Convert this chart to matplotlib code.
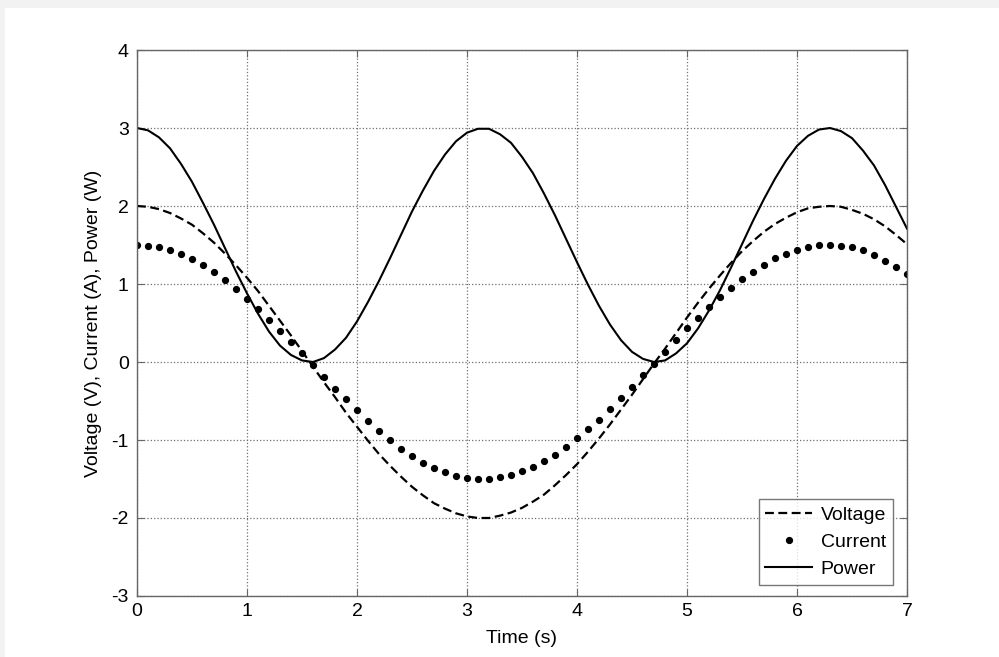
import matplotlib
matplotlib.use("Agg")
import matplotlib.pyplot as plt
from matplotlib.patches import Rectangle
import numpy as np

plt.rcParams['font.family'] = ['Liberation Sans', 'DejaVu Sans']
plt.rcParams['axes.unicode_minus'] = False

# time samples (s), step 0.1
time_s = [round(0.1 * i, 1) for i in range(71)]

voltage = [2.00, 1.99, 1.96, 1.91, 1.84, 1.76, 1.65, 1.53, 1.39, 1.24, 1.08, 0.91, 0.72, 0.53, 0.34, 0.14,
           -0.06, -0.26, -0.45, -0.65, -0.83, -1.01, -1.18, -1.33, -1.47, -1.60, -1.71, -1.81, -1.88, -1.94,
           -1.98, -2.00, -2.00, -1.97, -1.93, -1.87, -1.79, -1.70, -1.58, -1.45, -1.31, -1.15, -0.98, -0.80,
           -0.61, -0.42, -0.22, -0.02, 0.17, 0.37, 0.57, 0.76, 0.94, 1.11, 1.27, 1.42, 1.55, 1.67, 1.77, 1.85,
           1.92, 1.97, 1.99, 2.00, 1.99, 1.95, 1.90, 1.83, 1.74, 1.63, 1.51]

current = [1.50, 1.49, 1.47, 1.43, 1.38, 1.32, 1.24, 1.15, 1.05, 0.93, 0.81, 0.68, 0.54, 0.40, 0.26, 0.11,
           -0.04, -0.19, -0.34, -0.48, -0.62, -0.76, -0.88, -1.00, -1.11, -1.20, -1.29, -1.36, -1.41, -1.46,
           -1.49, -1.50, -1.50, -1.48, -1.45, -1.40, -1.35, -1.27, -1.19, -1.09, -0.98, -0.86, -0.74, -0.60,
           -0.46, -0.32, -0.17, -0.02, 0.13, 0.28, 0.43, 0.57, 0.70, 0.83, 0.95, 1.06, 1.16, 1.25, 1.33, 1.39,
           1.44, 1.47, 1.50, 1.50, 1.49, 1.47, 1.43, 1.37, 1.30, 1.22, 1.13]

power = [3.00, 2.97, 2.88, 2.74, 2.54, 2.31, 2.04, 1.76, 1.46, 1.16, 0.88, 0.62, 0.39, 0.21, 0.09, 0.02,
         0.00, 0.05, 0.16, 0.31, 0.52, 0.77, 1.04, 1.33, 1.63, 1.93, 2.20, 2.45, 2.66, 2.83, 2.94, 2.99,
         2.99, 2.92, 2.81, 2.63, 2.42, 2.16, 1.88, 1.58, 1.28, 0.99, 0.72, 0.48, 0.28, 0.13, 0.04, 0.00,
         0.02, 0.11, 0.24, 0.43, 0.66, 0.92, 1.21, 1.51, 1.81, 2.09, 2.35, 2.58, 2.77, 2.90, 2.98, 3.00,
         2.96, 2.87, 2.71, 2.52, 2.27, 1.99, 1.71]

x_ticks = [0, 1, 2, 3, 4, 5, 6, 7]
y_ticks = [-3, -2, -1, 0, 1, 2, 3, 4]

FS = 14

fig = plt.figure(figsize=(9.99, 6.57), dpi=100, facecolor='#f2f2f2')
fig.patches.append(Rectangle((5 / 999, 0), 1, (657 - 8) / 657, transform=fig.transFigure,
                             facecolor='white', edgecolor='none', zorder=-10))

ax = fig.add_axes([137 / 999, (657 - 596) / 657, 770 / 999, 546 / 657])
ax.set_zorder(5)
ax.set_facecolor('white')

ax.plot(time_s, voltage, color='black', linestyle=(0, (4, 2)), linewidth=1.6, label='Voltage')
ax.plot(time_s, current, color='black', linestyle='none', marker='o', markersize=4.2, label='Current')
ax.plot(time_s, power, color='black', linestyle='-', linewidth=1.5, label='Power')

ax.set_xlim(0, 7)
ax.set_ylim(-3, 4)
ax.set_xticks(x_ticks)
ax.set_yticks(y_ticks)
ax.grid(True, linestyle=':', color='#707070', linewidth=0.9)
ax.set_axisbelow(True)
for s in ax.spines.values():
    s.set_color('#666666')
    s.set_linewidth(1.0)
ax.tick_params(direction='in', top=True, right=True, length=5, color='#666666',
               labelsize=FS)
ax.tick_params(axis='y', pad=6)
ax.tick_params(axis='x', pad=5)

ax.set_xlabel('Time (s)', fontsize=FS, labelpad=7)
ax.set_ylabel('Voltage (V), Current (A), Power (W)', fontsize=FS, labelpad=7)

leg = ax.legend(loc='lower right', fontsize=FS, frameon=True, fancybox=False,
                handlelength=2.4, borderpad=0.35, labelspacing=0.5, handletextpad=0.45,
                borderaxespad=0, bbox_to_anchor=(1 - 14 / 770, 11 / 546))
leg.get_frame().set_edgecolor('#555555')
leg.get_frame().set_linewidth(1.0)

fig.savefig('out.png', dpi=100, facecolor=fig.get_facecolor())
